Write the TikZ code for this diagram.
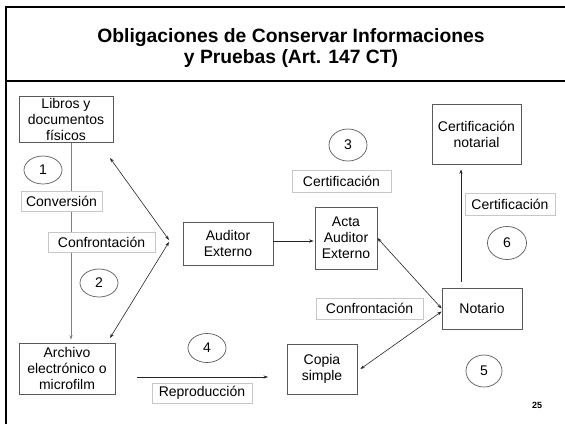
\documentclass[tikz,border=0pt]{standalone}
\usepackage{fontspec}
\setmainfont{Liberation Sans}
\usetikzlibrary{arrows.meta,shapes.geometric}
\pgfdeclarelayer{bg}
\pgfsetlayers{bg,main}
\begin{document}
\begin{tikzpicture}[x=1pt,y=-1pt,
  mainbox/.style={draw=black!65, line width=0.8pt, align=center, inner sep=0pt,
    font=\fontsize{14}{16}\selectfont},
  lblbox/.style={draw=black!22, fill=white, line width=0.8pt, align=center, inner sep=0pt,
    font=\fontsize{14}{16}\selectfont},
  numcirc/.style={draw=black!65, line width=0.7pt, ellipse, inner sep=0pt,
    font=\fontsize{14}{16}\selectfont},
  arr/.style={line width=0.6pt, draw=black!85, -{Stealth[length=4.5pt,width=3.2pt]}},
  darr/.style={line width=0.6pt, draw=black!85, {Stealth[length=4.5pt,width=3.2pt]}-{Stealth[length=4.5pt,width=3.2pt]}}
]
\useasboundingbox (0,0) rectangle (565,424);
% frame
\draw[line width=2.4pt] (6,424) -- (6,7) -- (565,7);
\draw[line width=1.4pt] (6,81) -- (565,81);
% title
\node[align=center, font=\fontsize{19.3}{21}\selectfont\bfseries] (title) at (291,48)
  {Obligaciones de Conservar Informaciones\\y Pruebas (Art. 147 CT)};
% main boxes
\node[mainbox, minimum width=94pt, minimum height=46pt] (libros) at (66,119) {Libros y\\documentos\\físicos};
\node[mainbox, minimum width=96pt, minimum height=51pt] (archivo) at (67,368.5) {Archivo\\electrónico o\\microfilm};
\node[mainbox, minimum width=90pt, minimum height=43pt] (auditor) at (228,243.5) {Auditor\\Externo};
\node[mainbox, minimum width=62pt, minimum height=62pt] (acta) at (346,238) {Acta\\Auditor\\Externo};
\node[mainbox, minimum width=70pt, minimum height=50pt] (copia) at (322,369) {Copia\\simple};
\node[mainbox, minimum width=80pt, minimum height=41pt] (notario) at (482,308.5) {Notario};
\node[mainbox, minimum width=89pt, minimum height=60pt] (certnot) at (476.5,134) {Certificación\\notarial};
% label boxes
\node[lblbox, minimum width=81pt, minimum height=20pt] (conv) at (61.5,201) {Conversión};
\node[lblbox, minimum width=107pt, minimum height=20pt] (conf1) at (101.5,242) {Confrontación};
\node[lblbox, minimum width=100pt, minimum height=20pt] (repro) at (202,393) {Reproducción};
\node[lblbox, minimum width=99pt, minimum height=22pt] (cert1) at (341.5,181) {Certificación};
\node[lblbox, minimum width=90pt, minimum height=22pt] (cert2) at (510,204.5) {Certificación};
\node[lblbox, minimum width=107pt, minimum height=21pt] (conf2) at (369.5,308.5) {Confrontación};
% number circles
\node[numcirc, minimum width=38pt, minimum height=28pt] (n1) at (43,170) {1};
\node[numcirc, minimum width=38pt, minimum height=28pt] (n2) at (99,283) {2};
\node[numcirc, minimum width=38pt, minimum height=32pt] (n3) at (348,145) {3};
\node[numcirc, minimum width=38pt, minimum height=29pt] (n4) at (207,348) {4};
\node[numcirc, minimum width=36pt, minimum height=32pt] (n5) at (484,371) {5};
\node[numcirc, minimum width=39pt, minimum height=33pt] (n6) at (507,243) {6};
% page number
\node[font=\fontsize{9}{10}\selectfont\bfseries] (pg) at (537,405) {25};
% connectors
\coordinate (vx) at (71,0);
\begin{pgfonlayer}{bg}
\draw[arr, draw=black!50] (libros.south -| vx) -- ([yshift=3pt]archivo.north -| vx);
\end{pgfonlayer}
\coordinate (p1) at (110,158);
\coordinate (p2) at (169,240);
\coordinate (p2b) at (169,242);
\coordinate (p3) at (110,338);
\draw[darr] (p1) -- (p2);
\draw[darr] (p2b) -- (p3);
\draw[arr] (auditor.east |- 0,241) -- ([xshift=-1pt]acta.west |- 0,241);
\coordinate (h1) at (137,377);
\coordinate (h2) at (268,377);
\draw[arr] (h1) -- (h2);
\draw[darr] (acta.east) -- (notario.west);
\draw[darr] ([xshift=3pt]copia.east) -- ([yshift=-3pt]notario.west);
\coordinate (ux) at (461,0);
\draw[arr, shorten <=6pt, shorten >=5pt] (notario.north -| ux) -- (certnot.south -| ux);
\end{tikzpicture}
\end{document}
